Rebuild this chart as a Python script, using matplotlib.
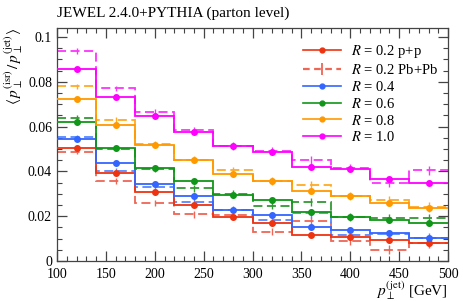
import numpy as np
import matplotlib
matplotlib.use("Agg")
import matplotlib.pyplot as plt
from matplotlib.ticker import MultipleLocator, FuncFormatter
from matplotlib.lines import Line2D

plt.rcParams['font.family'] = ['Liberation Serif', 'DejaVu Serif']
plt.rcParams['mathtext.fontset'] = 'stix'

edges = [100, 140, 180, 220, 260, 300, 340, 380, 420, 460, 500]

radii = ["0.2", "0.4", "0.6", "0.8", "1.0"]

pp_r02 = [0.0506, 0.0392, 0.0306, 0.0250, 0.0198, 0.0168, 0.0117, 0.0107, 0.0093, 0.0079]
pp_r04 = [0.0544, 0.0436, 0.0343, 0.0290, 0.0229, 0.0207, 0.0152, 0.0140, 0.0125, 0.0102]
pp_r06 = [0.0619, 0.0504, 0.0414, 0.0358, 0.0296, 0.0272, 0.0220, 0.0198, 0.0184, 0.0168]
pp_r08 = [0.0722, 0.0605, 0.0519, 0.0450, 0.0389, 0.0358, 0.0311, 0.0289, 0.0258, 0.0236]
pp_r10 = [0.0856, 0.0732, 0.0645, 0.0577, 0.0513, 0.0487, 0.0421, 0.0411, 0.0366, 0.0349]

pbpb_r02 = [0.0488, 0.0357, 0.0259, 0.0209, 0.0203, 0.0131, 0.0177, 0.0091, 0.0050, 0.0081]
pbpb_r04 = [0.0552, 0.0400, 0.0328, 0.0265, 0.0228, 0.0184, 0.0212, 0.0114, 0.0119, 0.0104]
pbpb_r06 = [0.0639, 0.0502, 0.0412, 0.0325, 0.0299, 0.0247, 0.0263, 0.0197, 0.0191, 0.0190]
pbpb_r08 = [0.0780, 0.0630, 0.0521, 0.0452, 0.0404, 0.0358, 0.0338, 0.0290, 0.0272, 0.0241]
pbpb_r10 = [0.0937, 0.0770, 0.0664, 0.0583, 0.0513, 0.0490, 0.0451, 0.0414, 0.0348, 0.0404]

pp_err = [0.0007, 0.0008, 0.0008, 0.0009, 0.0009, 0.0010, 0.0010, 0.0011, 0.0011, 0.0012]
pbpb_err = [0.0012, 0.0013, 0.0014, 0.0015, 0.0016, 0.0017, 0.0018, 0.0019, 0.0020, 0.0021]

pp_series = [pp_r02, pp_r04, pp_r06, pp_r08, pp_r10]
pbpb_series = [pbpb_r02, pbpb_r04, pbpb_r06, pbpb_r08, pbpb_r10]

colors = ["#EE3311", "#3366FF", "#109618", "#FF9900", "#FF00FF"]
pbpb_colors = ["#EE6655", "#5588FF", "#339933", "#FFAA22", "#FF33FF"]

title = "JEWEL 2.4.0+PYTHIA (parton level)"
xlabel = r"$p_\perp^{(\mathrm{jet})}$ [GeV]"
ylabel = r"$\langle\, p_\perp^{(\mathrm{isr})}\,/\,p_\perp^{(\mathrm{jet})} \rangle$"

fig = plt.figure(figsize=(4.63, 3.01), dpi=100)
ax = fig.add_axes([0.123, 0.133, 0.845, 0.774])

centers = [(a + b) / 2 for a, b in zip(edges[:-1], edges[1:])]
dash = (5, 2.5)

labels = []
for i, r in enumerate(radii):
    c = colors[i]
    cd = pbpb_colors[i]
    ax.stairs(pbpb_series[i], edges, color=cd, lw=1.3, linestyle=(0, dash), baseline=None, zorder=2)
    ax.errorbar(centers, pbpb_series[i], yerr=pbpb_err, fmt='none', ecolor=cd, elinewidth=1.0, zorder=2)
    ax.stairs(pp_series[i], edges, color=c, lw=1.3, baseline=None, zorder=3)
    ax.errorbar(centers, pp_series[i], yerr=pp_err, fmt='o', color=c, ms=4.0,
                elinewidth=1.0, zorder=4)
    if i == 0:
        labels.append(r"$R$ = 0.2 p+p")
        labels.append(r"$R$ = 0.2 Pb+Pb")
    else:
        labels.append(r"$R$ = " + r)

leg_handles = []
for i, lab in enumerate(labels):
    if i == 1:
        leg_handles.append(Line2D([], [], color=pbpb_colors[0], lw=1.6, linestyle=(0, (3, 2)),
                                  marker='|', ms=8, mew=1.3))
    else:
        ci = 0 if i == 0 else i - 1
        leg_handles.append(Line2D([], [], color=colors[ci], lw=1.2, marker='o', ms=3.5))

ax.legend(leg_handles, labels, loc='upper right', frameon=False, fontsize=10.5,
          handlelength=2.6, handletextpad=0.7, labelspacing=0.2,
          bbox_to_anchor=(1.0, 0.98), borderaxespad=0.3)

ax.set_xlim(100, 500)
ax.set_ylim(0, 0.104)
ax.xaxis.set_major_locator(MultipleLocator(50))
ax.xaxis.set_minor_locator(MultipleLocator(10))
ax.yaxis.set_major_locator(MultipleLocator(0.02))
ax.yaxis.set_minor_locator(MultipleLocator(0.005))

def yfmt(v, pos):
    if abs(v) < 1e-9:
        return "0"
    s = "%.2f" % v
    s = s.rstrip('0').rstrip('.')
    return s
ax.yaxis.set_major_formatter(FuncFormatter(yfmt))

ax.tick_params(which='both', direction='in', top=True, right=True, labelsize=10, colors='#444444',
               labelcolor='black')
ax.tick_params(which='major', length=7, width=0.9)
ax.tick_params(which='minor', length=3.5, width=0.8)
ax.tick_params(axis='x', which='major', pad=5)
for s in ax.spines.values():
    s.set_color('#444444')
    s.set_linewidth(0.9)

fig.text(0.123, 0.955, title, ha='left', va='center', fontsize=11)
ax.set_xlabel(xlabel, fontsize=11, ha='right', va='baseline')
ax.xaxis.set_label_coords(1.0, -0.15)
ax.set_ylabel(ylabel, fontsize=11, ha='right', y=1.0, labelpad=2)

fig.savefig("out.png", dpi=100)
